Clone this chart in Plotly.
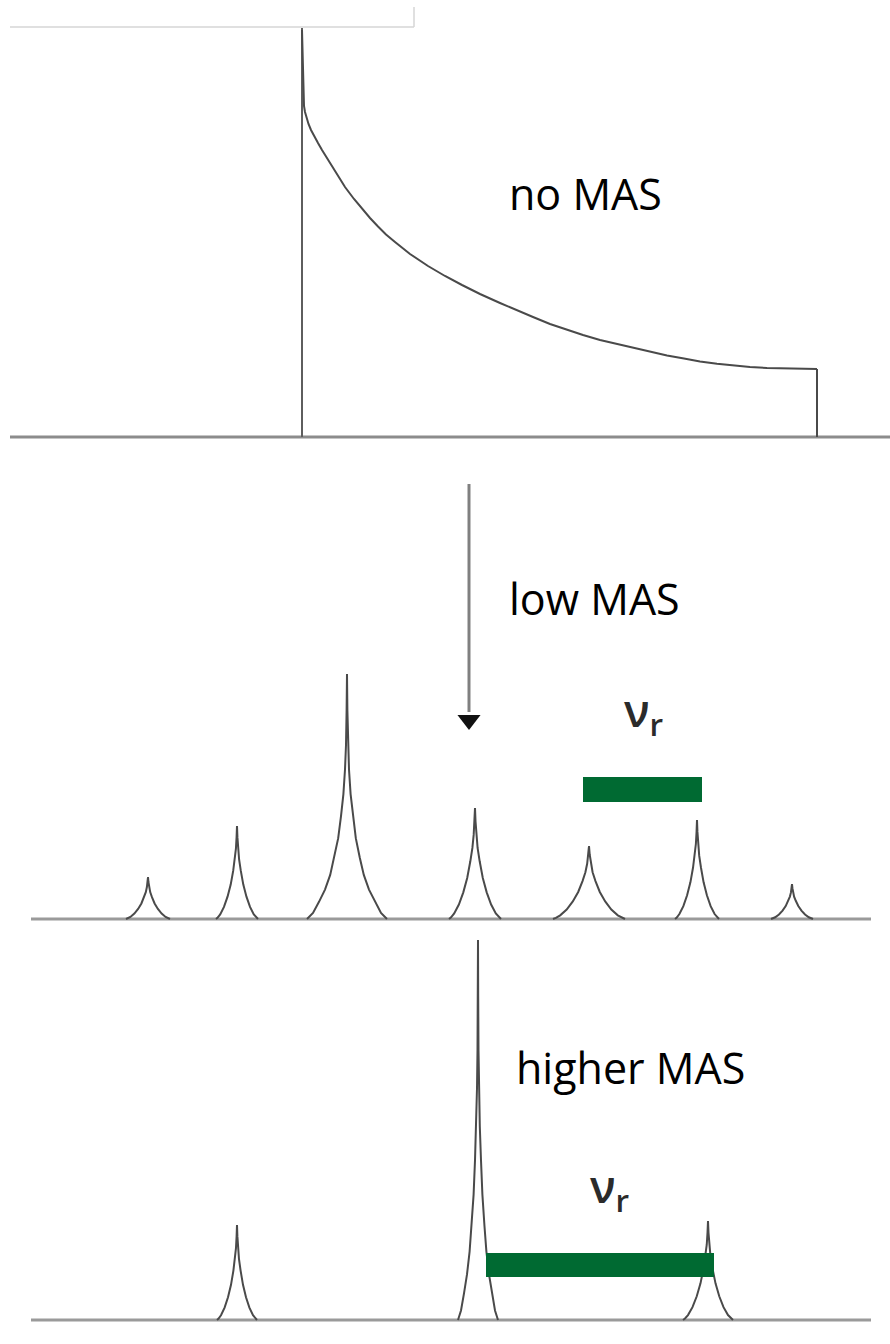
import plotly.graph_objects as go

W, H = 890, 1344

# ---------------- data (schematic frequency units, intensity above baseline) -------------
# Panel 1: static powder pattern (no MAS)
powder_x = [302, 302.4, 302.8, 303.3, 304, 305, 306.5, 308.5, 311, 314, 318, 322, 328,
            336, 345, 354, 362, 370, 378, 386, 395, 410, 428, 445, 462, 480, 500,
            516, 533, 550, 567, 583, 600, 617, 633, 650, 667, 684, 700, 717, 733,
            750, 767, 792, 817]
powder_h = [407, 385, 360, 340, 331, 325, 319, 313, 307, 301, 294, 287, 277,
            264, 250, 238, 228, 219, 210.5, 202.5, 195, 183, 171, 161, 152, 143, 134,
            127, 120, 113, 107, 102, 97, 93, 89, 85, 81.5, 78.5, 75.5, 73.2, 71.4,
            70, 69, 68.4, 68]
powder_left_edge = 302
powder_right_edge = 817

# Peak line-shapes (offset in half-widths / relative height)
# "A": very sharp centre band, "B": ordinary sideband
profile_dx = {
    "A": [-1.0, -0.85, -0.7, -0.55, -0.42, -0.32, -0.22, -0.15, -0.09, -0.05, -0.025, -0.01, 0.0,
          0.01, 0.025, 0.05, 0.09, 0.15, 0.22, 0.32, 0.42, 0.55, 0.7, 0.85, 1.0],
    "B": [-1.0, -0.92, -0.8, -0.62, -0.45, -0.3, -0.18, -0.1, -0.05, -0.02, 0.0,
          0.02, 0.05, 0.1, 0.18, 0.3, 0.45, 0.62, 0.8, 0.92, 1.0],
}
profile_rel = {
    "A": [0.0, 0.025, 0.07, 0.12, 0.18, 0.25, 0.33, 0.42, 0.51, 0.61, 0.71, 0.85, 1.0,
          0.85, 0.71, 0.61, 0.51, 0.42, 0.33, 0.25, 0.18, 0.12, 0.07, 0.025, 0.0],
    "B": [0.0, 0.015, 0.05, 0.13, 0.24, 0.37, 0.52, 0.64, 0.76, 0.88, 1.0,
          0.88, 0.76, 0.64, 0.52, 0.37, 0.24, 0.13, 0.05, 0.015, 0.0],
}

# Panel 2: low MAS sidebands
low_centers = [148, 237, 347, 475, 589, 697, 792]
low_heights = [42, 93, 245, 111, 73, 99, 35]
low_halfw = [22, 21, 40, 26, 36, 22, 21]
low_shape = ["B", "B", "A", "B", "B", "B", "B"]

# Panel 3: higher MAS
high_centers = [237, 478, 708]
high_heights = [95, 380, 99]
high_halfw = [20, 20, 25]
high_shape = ["B", "A", "B"]

labels = ["no MAS", "low MAS", "higher MAS"]
nu_r = "ν<sub>r</sub>"

# ---------------- layout helpers (pixel geometry of each panel) ----------------
# (top pixel, baseline pixel, bottom pixel)
panels = [(0, 437, 455), (460, 919, 929), (930, 1320, 1340)]


def dom(p):
    t, b, bt = p
    return [1 - bt / H, 1 - t / H], [b - bt, b - t]


LINE = "#4a4a4a"
GREEN = "#006a32"

fig = go.Figure()


def add(x, y, yaxis, color=LINE, width=2):
    fig.add_trace(go.Scatter(x=x, y=y, mode="lines", line=dict(color=color, width=width),
                             yaxis=yaxis, hoverinfo="skip", showlegend=False))


# Panel 1
add([10, 890], [0, 0], "y", color="#8c8c8c", width=3)
add([powder_left_edge, powder_left_edge], [0, powder_h[0] + 2], "y", color="#5e5e5e", width=2)
add(powder_x, powder_h, "y", color=LINE, width=2)
add([powder_right_edge, powder_right_edge], [0, powder_h[-1]], "y", color=LINE, width=2)


def peaks(centers, heights, halfw, shapes, yaxis):
    for c, h, w, s in zip(centers, heights, halfw, shapes):
        xs = [c + d * w for d in profile_dx[s]]
        ys = [r * h for r in profile_rel[s]]
        add(xs, ys, yaxis, color=LINE, width=2)


# Panel 2
add([31, 871], [0, 0], "y2", color="#9a9a9a", width=3)
peaks(low_centers, low_heights, low_halfw, low_shape, "y2")
# arrow shaft and head
add([469, 469], [435, 207], "y2", color="#808080", width=3)
fig.add_trace(go.Scatter(x=[469], y=[199], mode="markers", yaxis="y2",
                         marker=dict(symbol="triangle-down", size=20, color="#111111",
                                     line=dict(width=0)),
                         hoverinfo="skip", showlegend=False))

# Panel 3
add([31, 871], [0, 0], "y3", color="#9a9a9a", width=3)
peaks(high_centers, high_heights, high_halfw, high_shape, "y3")

# Layout axes
d1, r1 = dom(panels[0])
d2, r2 = dom(panels[1])
d3, r3 = dom(panels[2])
ax_off = dict(visible=False, fixedrange=True)
fig.update_layout(
    width=W, height=H, margin=dict(l=0, r=0, t=0, b=0),
    paper_bgcolor="white", plot_bgcolor="rgba(0,0,0,0)",
    xaxis=dict(range=[0, W], domain=[0, 1], **ax_off),
    yaxis=dict(domain=d1, range=r1, **ax_off),
    yaxis2=dict(domain=d2, range=r2, **ax_off),
    yaxis3=dict(domain=d3, range=r3, **ax_off),
    font=dict(family="Open Sans"),
)

# Top-left faint frame
fig.add_shape(type="line", xref="x", yref="y", x0=10, x1=414, y0=410, y1=410,
              line=dict(color="#d6d6d6", width=1.5))
fig.add_shape(type="line", xref="x", yref="y", x0=414, x1=414, y0=410, y1=430,
              line=dict(color="#d6d6d6", width=1.5))

# Green spinning-rate bars
fig.add_shape(type="rect", xref="x", yref="y2", x0=583, x1=702, y0=117, y1=142,
              fillcolor=GREEN, line=dict(width=0))
fig.add_shape(type="rect", xref="x", yref="y3", x0=486, x1=714, y0=43, y1=67,
              fillcolor=GREEN, line=dict(width=0))

# Labels
lab_font = dict(family="Open Sans", size=43, color="#000000")
fig.add_annotation(x=507, y=437 - 193, xref="x", yref="y", text=labels[0],
                   showarrow=False, xanchor="left", yanchor="middle", font=lab_font)
fig.add_annotation(x=507, y=919 - 598, xref="x", yref="y2", text=labels[1],
                   showarrow=False, xanchor="left", yanchor="middle", font=lab_font)
fig.add_annotation(x=514, y=1320 - 1067, xref="x", yref="y3", text=labels[2],
                   showarrow=False, xanchor="left", yanchor="middle", font=lab_font)

nu_font = dict(family="Open Sans", size=45, color="#2b2b2b", weight=600)
fig.add_annotation(x=622, y=919 - 712, xref="x", yref="y2", text=nu_r,
                   showarrow=False, xanchor="left", yanchor="middle", font=nu_font)
fig.add_annotation(x=588, y=1320 - 1188, xref="x", yref="y3", text=nu_r,
                   showarrow=False, xanchor="left", yanchor="middle", font=nu_font)

fig.write_html("out.html")
